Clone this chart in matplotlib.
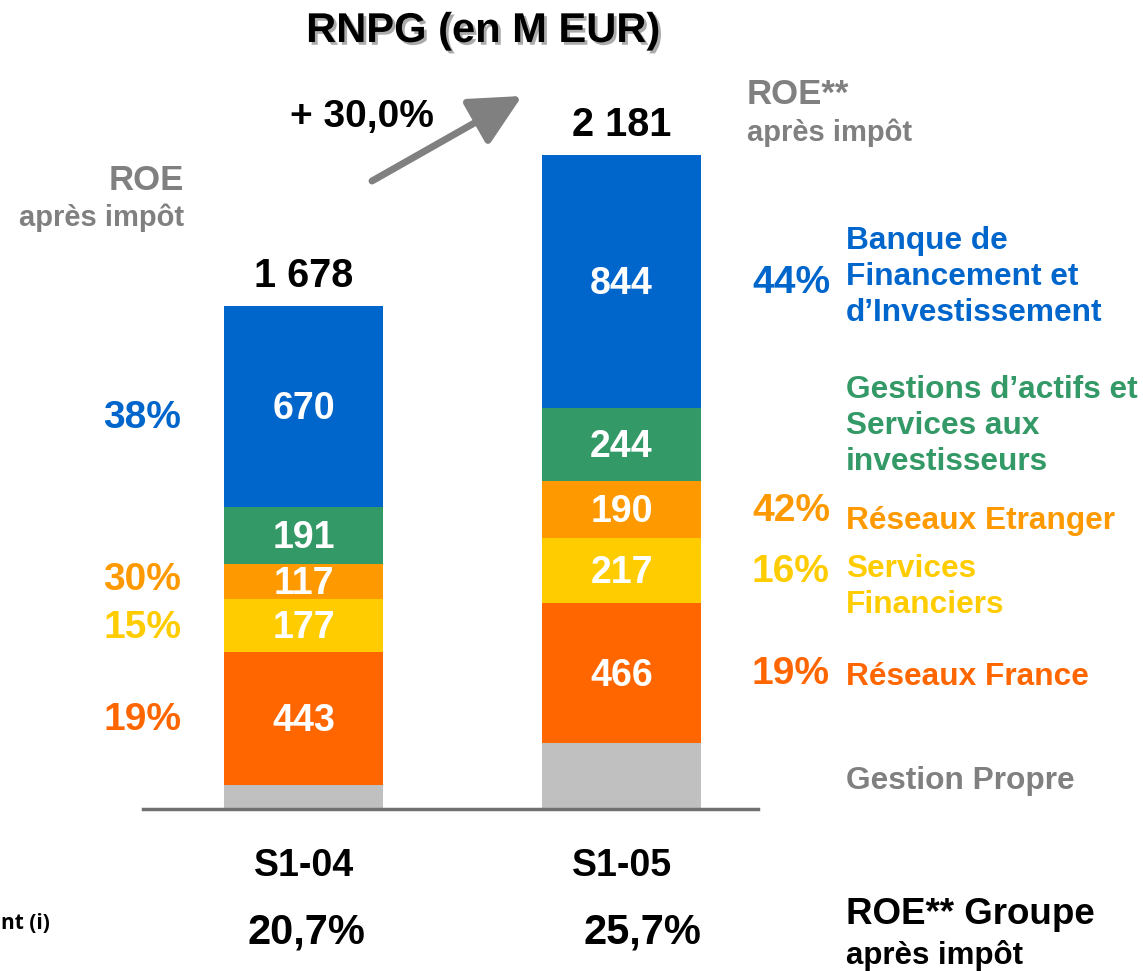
import numpy as np
import matplotlib.pyplot as plt
import matplotlib.patheffects as pe

plt.rcParams['font.family'] = ['Liberation Sans', 'DejaVu Sans']
plt.rcParams['font.weight'] = 'bold'

# data
periods = ['S1-04', 'S1-05']
segments = ['Gestion Propre', 'Réseaux France', 'Services Financiers',
            'Réseaux Etranger', 'Gestions d’actifs', 'Banque de Financement']
values_s104 = [80, 443, 177, 117, 191, 670]
values_s105 = [220, 466, 217, 190, 244, 844]
totals = [1678, 2181]
show_value = [False, True, True, True, True, True]
roe_s104 = ['19%', '15%', '30%', '38%']   # France, SF, Etranger, BFI
roe_s105 = ['19%', '16%', '42%', '44%']
roe_groupe = ['20,7%', '25,7%']
colors = ['#C0C0C0', '#FF6600', '#FFCC00', '#FF9900', '#339966', '#0066CC']
growth = '+ 30,0%'

W, H = 1143, 971
fig = plt.figure(figsize=(W / 100, H / 100), dpi=100)
ax = fig.add_axes([0, 0, 1, 1])
ax.axis('off')

# pixel layout of the slide
px_per_unit = 0.3
base_px = 809
x0_px, step_px = 303.5, 318
ax.set_ylim(-(H - base_px) / px_per_unit, base_px / px_per_unit)
ax.set_xlim(-x0_px / step_px, (W - x0_px) / step_px)


def pt(x, y):
    return x / W, 1 - y / H


x = np.arange(len(periods))
data = np.array([values_s104, values_s105])
bottoms = np.zeros(len(periods))
mids = []
for i, c in enumerate(colors):
    ax.bar(x, data[:, i], bottom=bottoms, width=0.5, color=c, zorder=2)
    mids.append(bottoms + data[:, i] / 2)
    if show_value[i]:
        for j in range(len(periods)):
            ax.text(x[j], bottoms[j] + data[j, i] / 2 - 8, str(data[j, i]),
                    ha='center', va='center', color='white', fontsize=27, zorder=3)
    bottoms = bottoms + data[:, i]

ax.axhline(0, xmin=143 / W, xmax=758 / W, color='#707070', lw=2.5, zorder=4)

for j, t in enumerate(totals):
    ax.text(x[j], t + 62, f'{t:,}'.replace(',', ' '), ha='center', va='baseline',
            fontsize=28.5, color='black')

# ROE per business line
pct_colors = ['#FF6600', '#FFCC00', '#FF9900', '#0066CC']
seg_idx = [1, 2, 3, 5]
left_shift = [-4, -8, 4, -40]
for k, si in enumerate(seg_idx):
    ax.text((181 - x0_px) / step_px, mids[si][0] + left_shift[k], roe_s104[k],
            ha='right', va='center', fontsize=28, color=pct_colors[k])
    ax.text((752 - x0_px) / step_px, mids[si][1] - 4, roe_s105[k],
            ha='left', va='center', fontsize=28, color=pct_colors[k])

# title
fig.text(*pt(483, 31), 'RNPG (en M EUR)', ha='center', va='center', fontsize=30,
         path_effects=[pe.withSimplePatchShadow(offset=(2, -2), shadow_rgbFace='#888888', alpha=0.7)])

fig.text(*pt(362, 117), growth, ha='center', va='center', fontsize=28)
ax.annotate('', xy=(522, H - 96), xytext=(372, H - 181), xycoords='figure pixels',
            textcoords='figure pixels',
            arrowprops=dict(arrowstyle='-|>,head_length=0.9,head_width=0.45',
                            color='#808080', lw=5, mutation_scale=35, shrinkA=0, shrinkB=0))

gray = '#808080'
fig.text(*pt(184, 180), 'ROE', ha='right', va='center', fontsize=25, color=gray)
fig.text(*pt(184, 218), 'après impôt', ha='right', va='center', fontsize=21, color=gray)
fig.text(*pt(747, 95), 'ROE**', ha='left', va='center', fontsize=25, color=gray)
fig.text(*pt(747, 133), 'après impôt', ha='left', va='center', fontsize=21, color=gray)

# legend on the right
legend_items = [
    ('Banque de\nFinancement et\nd’Investissement', 277, '#0066CC'),
    ('Gestions d’actifs et\nServices aux\ninvestisseurs', 426, '#339966'),
    ('Réseaux Etranger', 521, '#FF9900'),
    ('Services\nFinanciers', 587, '#FFCC00'),
    ('Réseaux France', 677, '#FF6600'),
    ('Gestion Propre', 781, '#808080'),
]
for label, y, c in legend_items:
    fig.text(*pt(846, y), label, ha='left', va='center', fontsize=22.8, color=c,
             linespacing=1.27)

# period labels and group ROE
for j, p in enumerate(periods):
    fig.text(*pt(304 + 318 * j, 866), p, ha='center', va='center', fontsize=27)
fig.text(*pt(306, 932), roe_groupe[0], ha='center', va='center', fontsize=30)
fig.text(*pt(642, 932), roe_groupe[1], ha='center', va='center', fontsize=30)
fig.text(*pt(846, 914), 'ROE** Groupe', ha='left', va='center', fontsize=26.5)
fig.text(*pt(846, 955), 'après impôt', ha='left', va='center', fontsize=22.5)
fig.text(*pt(1, 923), 'nt (i)', ha='left', va='center', fontsize=15,
         family=['Open Sans', 'DejaVu Sans'])

fig.savefig('out.png', dpi=100)
